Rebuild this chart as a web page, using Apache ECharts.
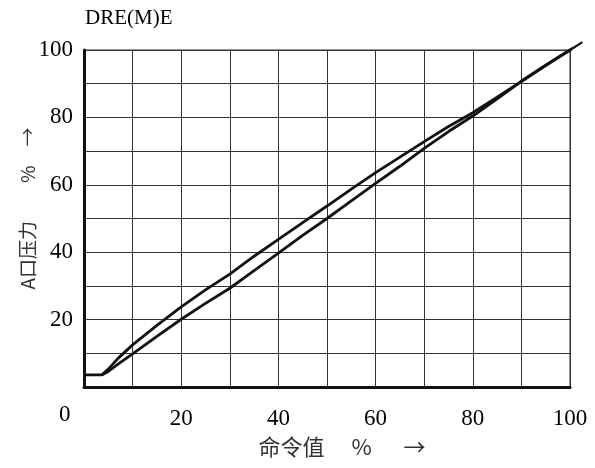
<!DOCTYPE html>
<html>
<head>
<meta charset="utf-8">
<script src="https://cdn.jsdelivr.net/npm/echarts@6/dist/echarts.min.js"></script>
<style>html,body{margin:0;padding:0;background:#fff;}#c{width:595px;height:468px;}</style>
</head>
<body>
<div id="c"></div>
<script>
// Command value (%) and A-port pressure (%) readings
var upX = [0, 3.7, 5, 7, 10, 15, 20, 25, 30, 35, 40, 45, 50, 55, 60, 65, 70, 75, 80, 85, 88, 90, 95, 100, 102.4];
var upY = [3.6, 3.6, 5.3, 8.5, 12.5, 18.3, 23.8, 28.8, 33.5, 38.8, 43.8, 48.8, 53.7, 58.7, 63.6, 68.2, 72.8, 77.3, 81.4, 86.0, 88.8, 90.6, 95.4, 100, 102.2];
var lowX = [3.7, 5, 7, 10, 15, 20, 25, 30, 35, 40, 45, 50, 55, 60, 65, 70, 75, 80, 85, 88, 90, 95, 100];
var lowY = [3.6, 4.6, 6.8, 9.8, 15.0, 20.1, 24.8, 29.3, 34.5, 39.7, 45.0, 50.0, 55.2, 60.4, 65.5, 70.8, 75.8, 80.4, 85.5, 88.6, 90.8, 95.5, 100];
var tickLabels = ['20', '40', '60', '80', '100'];
var titleText = 'DRE(M)E';
var xName = '命令值　 %　  →';
var yName = 'A口压力　　%　→';

function pairs(xs, ys) { return xs.map(function (x, i) { return [x, ys[i]]; }); }
function fmt(v) { var s = String(Math.round(v)); return tickLabels.indexOf(s) >= 0 ? s : ''; }

var upData = pairs(upX, upY);
// last segment of the upper curve runs past the frame
var tailData = [upData.slice(-2).reduce(function (a, b) { return a.concat(b); }, [])];

var chart = echarts.init(document.getElementById('c'), null, { renderer: 'canvas' });
var serif = '"Liberation Serif", "DejaVu Serif", serif';
var cjk = '"Noto Sans CJK SC", "Noto Sans", sans-serif';
chart.setOption({
  animation: false,
  backgroundColor: '#fff',
  title: {
    text: titleText, left: 80, top: 3,
    textStyle: { fontFamily: serif, fontSize: 21, fontWeight: 'normal', color: '#000' }
  },
  grid: { left: 84, right: 25, top: 50, bottom: 81, show: true, borderColor: '#333', borderWidth: 1 },
  xAxis: {
    type: 'value', min: 0, max: 100, interval: 10,
    axisLine: { show: true, lineStyle: { color: '#111', width: 3 } },
    axisTick: { show: false },
    splitLine: { show: true, lineStyle: { color: '#333', width: 1 } },
    axisLabel: { formatter: fmt, margin: 20, fontFamily: serif, fontSize: 23, color: '#000' },
    name: xName, nameLocation: 'middle', nameGap: 49, nameMoveOverlap: false,
    nameTextStyle: { fontFamily: cjk, fontSize: 22, color: '#333', padding: [0, 0, 0, 30] }
  },
  yAxis: {
    type: 'value', min: 0, max: 100, interval: 10,
    axisLine: { show: true, lineStyle: { color: '#111', width: 3 } },
    axisTick: { show: false },
    splitLine: { show: true, lineStyle: { color: '#333', width: 1 } },
    axisLabel: { formatter: fmt, margin: 11, fontFamily: serif, fontSize: 23, color: '#000' },
    name: yName, nameLocation: 'middle', nameGap: 47, nameRotate: 90, nameMoveOverlap: false,
    nameTextStyle: { fontFamily: cjk, fontSize: 19, color: '#333', padding: [0, 0, 0, 20] }
  },
  graphic: [{
    type: 'text', left: 59, top: 403,
    style: { text: '0', font: '23px "Liberation Serif", serif', fill: '#000' }
  }],
  series: [
    { type: 'line', data: upData, showSymbol: false, clip: false,
      lineStyle: { color: '#111', width: 2.8 } },
    { type: 'line', data: pairs(lowX, lowY), showSymbol: false, clip: false,
      lineStyle: { color: '#111', width: 2.8 } },
    { type: 'custom', data: tailData, clip: false, silent: true,
      renderItem: function (params, api) {
        var a = api.coord([api.value(0), api.value(1)]);
        var b = api.coord([api.value(2), api.value(3)]);
        return { type: 'line', shape: { x1: a[0], y1: a[1], x2: b[0], y2: b[1] },
          style: { stroke: '#111', lineWidth: 2.2, lineCap: 'round' } };
      } }
  ]
});
</script>
</body>
</html>
